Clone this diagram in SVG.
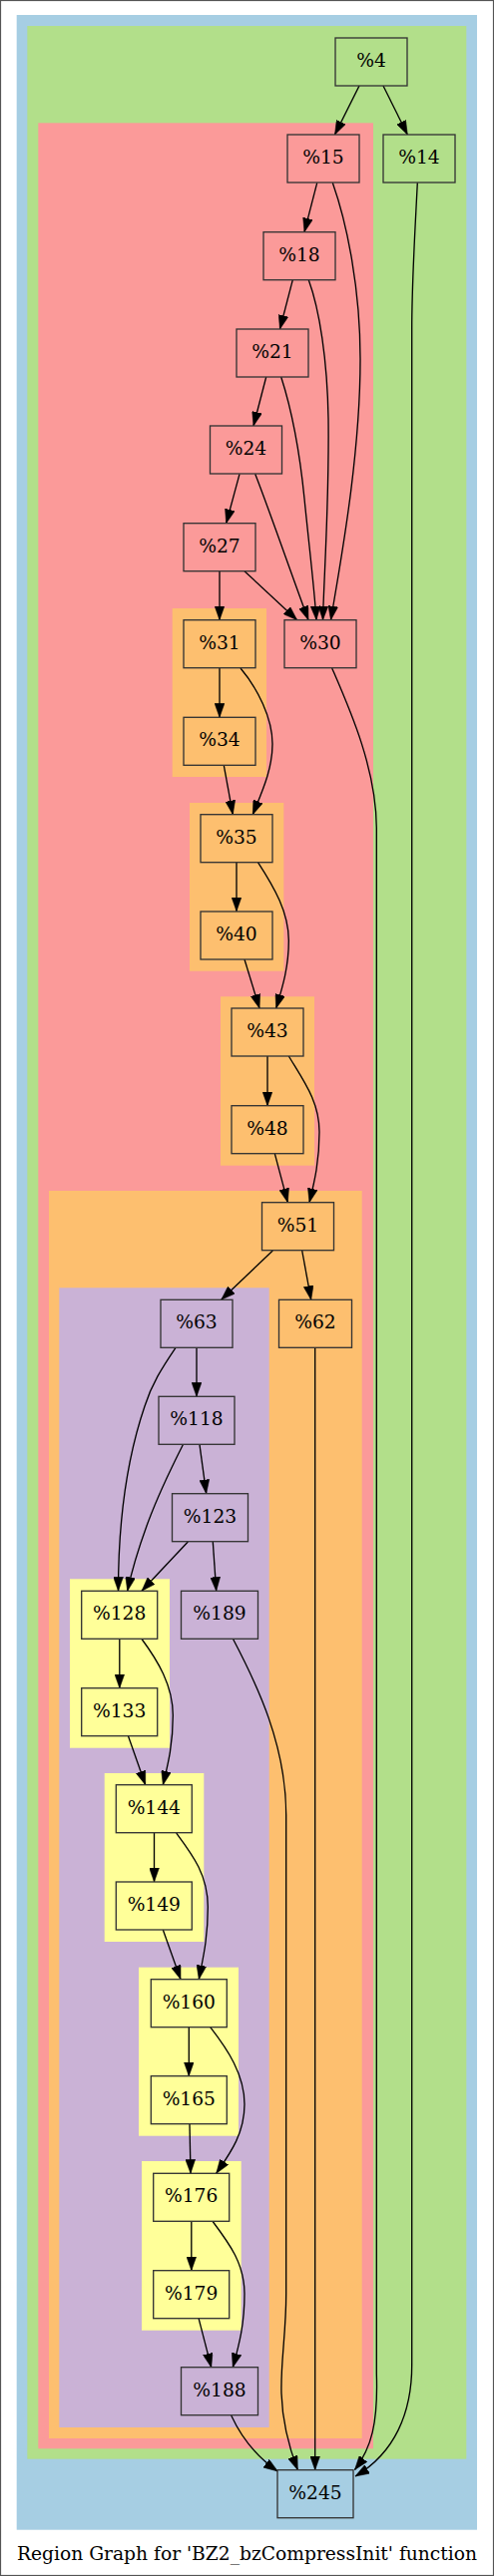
<svg xmlns="http://www.w3.org/2000/svg" width="495" height="2583" viewBox="0 0 495 2583">
<style>
.n rect{stroke:#333;stroke-width:1.33}
.n text,.cap{font-family:"DejaVu Serif","Liberation Serif",serif;font-size:18.67px;text-anchor:middle;fill:#000}
.e path{fill:none;stroke:#000;stroke-width:1.33;marker-end:url(#ah)}
.blue{fill:#a6cee3}.green{fill:#b2df8a}.red{fill:#fb9a99}.orange{fill:#fdbf6f}.purple{fill:#cab2d6}.yellow{fill:#ffff99}
</style>
<defs>
<marker id="ah" markerUnits="userSpaceOnUse" markerWidth="14" markerHeight="10" viewBox="0 0 13.3 9.4" refX="13.3" refY="4.7" orient="auto">
<path d="M0,0 L13.3,4.7 L0,9.4 z" fill="#000" stroke="#000" stroke-width="0.5"/>
</marker>
</defs>
<rect x="0" y="0" width="495" height="2583" fill="#fff"/>
<rect x="0.5" y="0.5" width="494" height="2582" fill="none" stroke="#555" stroke-width="1.2"/>
<g id="clusters">
<rect class="blue" x="16.7" y="15" width="461.3" height="2521.7"/>
<rect class="green" x="27.3" y="26" width="440" height="2439.7"/>
<rect class="red" x="38.3" y="123.3" width="335.7" height="2332"/>
<rect class="orange" x="172.7" y="610" width="94.3" height="169"/>
<rect class="orange" x="190" y="805" width="94.3" height="168.7"/>
<rect class="orange" x="221" y="999.3" width="94" height="169.4"/>
<rect class="orange" x="49" y="1194" width="313.7" height="1251"/>
<rect class="purple" x="59.3" y="1291.3" width="210.4" height="1142.7"/>
<rect class="yellow" x="70" y="1583.3" width="100" height="169.4"/>
<rect class="yellow" x="104.7" y="1778" width="99.6" height="169"/>
<rect class="yellow" x="139" y="1972.7" width="100" height="169"/>
<rect class="yellow" x="142" y="2167" width="99.7" height="169.7"/>
</g>
<g id="edges" class="e">
<path d="M360,86 L335.5,135"/>
<path d="M384,86 L408.3,135"/>
<path d="M317.7,183.3 L305,232.7"/>
<path d="M333.3,183.3 C348,225 361,290 361,360 C361,460 340,570 331.5,621.7"/>
<path d="M293.3,280.7 L280.5,330"/>
<path d="M309.3,280.7 C320,310 328,360 329,420 C330,500 325,570 323.5,621.7"/>
<path d="M266.7,378 L254,427"/>
<path d="M281.7,378 C292,410 300,450 305,500 C310,550 315,590 317,621.7"/>
<path d="M240,475.3 L226.7,524.7"/>
<path d="M255.7,475.3 C270,512 290,570 309,621.7"/>
<path d="M220,572.7 L220,621.7"/>
<path d="M245,572.7 L297.7,621.7"/>
<path d="M332.7,670 C350,710 377,770 377.3,830 L377.3,2380 C379,2430 372,2455 355.5,2476.5"/>
<path d="M418.3,183.3 C416,230 412.7,280 412.7,330 L412.7,2370 C413,2420 395,2460 356,2483"/>
<path d="M220,670 L220,719.3"/>
<path d="M241,670 C258,690 273,720 273,746 C273,772 262,795 253.3,816.7"/>
<path d="M224.3,767.3 L233.3,816.7"/>
<path d="M237,864.3 L237,913.7"/>
<path d="M258.3,864.3 C275,890 289.3,915 289.3,943 C289.3,970 283,990 276.7,1011"/>
<path d="M245,962 L260,1011"/>
<path d="M268,1059 L268,1108.7"/>
<path d="M289.3,1059 C305,1085 320,1105 320,1135 C320,1165 315,1185 310,1205.7"/>
<path d="M275.3,1156.7 L288.3,1205.7"/>
<path d="M273.3,1254 L221.7,1303.3"/>
<path d="M302.7,1254 L311.7,1303.3"/>
<path d="M315.7,1351.3 L315.7,2476.7"/>
<path d="M197,1351.3 L197,1400.3"/>
<path d="M176,1351.3 C162,1372 152,1388 145,1410 C128,1460 118.5,1520 118.5,1595.3"/>
<path d="M183.3,1448.7 C170,1475 156,1505 147,1530 C139,1552 132,1575 127.7,1595.3"/>
<path d="M200,1448.7 L206.7,1497.7"/>
<path d="M188.3,1546 L142,1595.3"/>
<path d="M213.3,1546 L216.7,1595.3"/>
<path d="M233.3,1643 C258,1690 286.7,1750 286.7,1820 L286.7,2300 C286.7,2340 281,2370 282,2400 C283,2430 290,2455 298.3,2476.7"/>
<path d="M119.8,1643 L119.8,1692.7"/>
<path d="M141.7,1643 C158,1665 173.3,1690 173.3,1720 C173.3,1750 168,1770 163.3,1789.7"/>
<path d="M128.3,1740.3 L145.7,1789.7"/>
<path d="M154.5,1838 L154.5,1887"/>
<path d="M176.7,1838 C193,1860 208.3,1880 208.3,1912 C208.3,1945 203,1965 199.3,1984.7"/>
<path d="M163.3,1935 L181,1984.7"/>
<path d="M189.3,2032.7 L189.3,2081.7"/>
<path d="M210.7,2032.7 C228,2055 245,2080 245,2110 C245,2140 230,2160 216.7,2179.3"/>
<path d="M190,2130 L191,2179.3"/>
<path d="M191.8,2227.7 L191.8,2276.7"/>
<path d="M213.3,2227.7 C230,2250 245,2270 245,2300 C245,2330 240,2350 233.3,2373.7"/>
<path d="M199,2324.3 L211.7,2373.7"/>
<path d="M231.7,2422 C240,2440 255,2462 278.3,2478"/>
</g>
<g id="n4" class="n"><rect class="green" x="336" y="38" width="72" height="48"/><text x="372" y="67">%4</text></g>
<g id="n15" class="n"><rect class="red" x="288" y="135" width="72" height="48"/><text x="324" y="164">%15</text></g>
<g id="n14" class="n"><rect class="green" x="384" y="135" width="72" height="48"/><text x="420" y="164">%14</text></g>
<g id="n18" class="n"><rect class="red" x="264" y="232.7" width="72" height="48"/><text x="300" y="261.7">%18</text></g>
<g id="n21" class="n"><rect class="red" x="237" y="330" width="72" height="48"/><text x="273" y="359">%21</text></g>
<g id="n24" class="n"><rect class="red" x="210.5" y="427" width="72" height="48"/><text x="246.5" y="456">%24</text></g>
<g id="n27" class="n"><rect class="red" x="184" y="524.7" width="72" height="48"/><text x="220" y="553.7">%27</text></g>
<g id="n31" class="n"><rect class="orange" x="184" y="621.7" width="72" height="48"/><text x="220" y="650.7">%31</text></g>
<g id="n30" class="n"><rect class="red" x="285" y="621.7" width="72" height="48"/><text x="321" y="650.7">%30</text></g>
<g id="n34" class="n"><rect class="orange" x="184" y="719.3" width="72" height="48"/><text x="220" y="748.3">%34</text></g>
<g id="n35" class="n"><rect class="orange" x="201" y="816.7" width="72" height="48"/><text x="237" y="845.7">%35</text></g>
<g id="n40" class="n"><rect class="orange" x="201" y="914" width="72" height="48"/><text x="237" y="943">%40</text></g>
<g id="n43" class="n"><rect class="orange" x="232" y="1011" width="72" height="48"/><text x="268" y="1040">%43</text></g>
<g id="n48" class="n"><rect class="orange" x="232" y="1108.7" width="72" height="48"/><text x="268" y="1137.7">%48</text></g>
<g id="n51" class="n"><rect class="orange" x="262.5" y="1205.7" width="72" height="48"/><text x="298.5" y="1234.7">%51</text></g>
<g id="n63" class="n"><rect class="purple" x="161" y="1303.3" width="72" height="48"/><text x="197" y="1332.3">%63</text></g>
<g id="n62" class="n"><rect class="orange" x="279.5" y="1303.3" width="73" height="48"/><text x="316" y="1332.3">%62</text></g>
<g id="n118" class="n"><rect class="purple" x="159" y="1400.3" width="76" height="48"/><text x="197" y="1429.3">%118</text></g>
<g id="n123" class="n"><rect class="purple" x="172.5" y="1497.7" width="76" height="48"/><text x="210.5" y="1526.7">%123</text></g>
<g id="n128" class="n"><rect class="yellow" x="81.7" y="1595.3" width="76" height="48"/><text x="119.7" y="1624.3">%128</text></g>
<g id="n189" class="n"><rect class="purple" x="181.5" y="1595.3" width="77" height="48"/><text x="220" y="1624.3">%189</text></g>
<g id="n133" class="n"><rect class="yellow" x="81.7" y="1692.7" width="76" height="48"/><text x="119.7" y="1721.7">%133</text></g>
<g id="n144" class="n"><rect class="yellow" x="116.3" y="1789.7" width="76" height="48"/><text x="154.3" y="1818.7">%144</text></g>
<g id="n149" class="n"><rect class="yellow" x="116.3" y="1887" width="76" height="48"/><text x="154.3" y="1916">%149</text></g>
<g id="n160" class="n"><rect class="yellow" x="151.3" y="1984.7" width="76" height="48"/><text x="189.3" y="2013.7">%160</text></g>
<g id="n165" class="n"><rect class="yellow" x="151.3" y="2081.7" width="76" height="48"/><text x="189.3" y="2110.7">%165</text></g>
<g id="n176" class="n"><rect class="yellow" x="153.7" y="2179.3" width="76" height="48"/><text x="191.7" y="2208.3">%176</text></g>
<g id="n179" class="n"><rect class="yellow" x="153.7" y="2276.7" width="76" height="48"/><text x="191.7" y="2305.7">%179</text></g>
<g id="n188" class="n"><rect class="purple" x="181.5" y="2373.7" width="77" height="48"/><text x="220" y="2402.7">%188</text></g>
<g id="n245" class="n"><rect class="blue" x="278" y="2476.7" width="76" height="48"/><text x="316" y="2505.7">%245</text></g>
<text class="cap" x="247.5" y="2567">Region Graph for 'BZ2_bzCompressInit' function</text>
</svg>
